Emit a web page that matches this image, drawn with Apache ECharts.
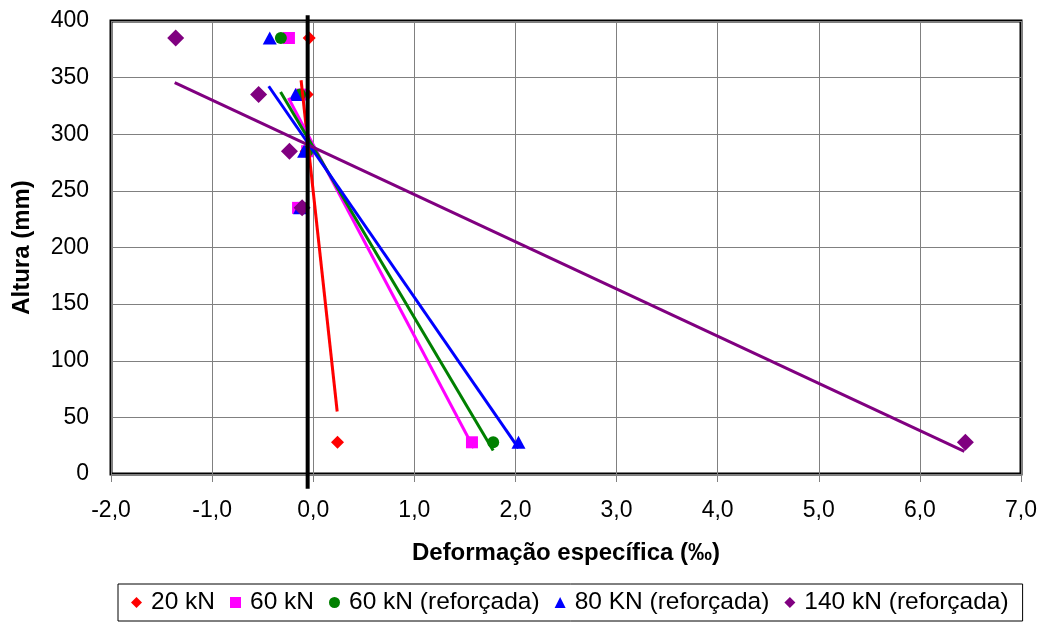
<!DOCTYPE html>
<html>
<head>
<meta charset="utf-8">
<title>Deformação específica x Altura</title>
<script src="https://cdn.jsdelivr.net/npm/echarts@6/dist/echarts.min.js"></script>
<style>
  html, body { margin: 0; padding: 0; background: #fff; }
  #chart { width: 1042px; height: 623px; }
</style>
</head>
<body>
<div id="chart"></div>
<script>
// Strain readings (‰) at each gauge height (mm) for every load step
const heights = [385, 335, 285, 235, 28];

const strain20kN = [-0.04, -0.06, -0.07, -0.12, 0.24];
const strain60kN = [-0.24, -0.12, -0.06, -0.15, 1.57];
const strain60kNRef = [-0.32, -0.13, -0.06, -0.10, 1.78];
const strain80kNRef = [-0.43, -0.175, -0.09, -0.13, 2.03];
const strain140kNRef = [-1.36, -0.54, -0.235, -0.11, 6.45];

// Linear trend lines: [strain, height] at both ends
const trend20kN = [[-0.12, 347.7], [0.237, 55.2]];
const trend60kN = [[-0.245, 332.0], [1.587, 22.9]];
const trend60kNRef = [[-0.323, 337.4], [1.78, 20.8]];
const trend80kNRef = [[-0.44, 342.4], [2.03, 22.9]];
const trend140kNRef = [[-1.37, 345.6], [6.44, 19.9]];

// Reference vertical line near zero strain
const zeroLine = [[-0.055, 405], [-0.055, -13]];

const seriesNames = ['20 kN', '60 kN', '60 kN (reforçada)', '80 KN (reforçada)', '140 kN (reforçada)'];
const seriesColors = ['#FF0000', '#FF00FF', '#008000', '#0000FF', '#800080'];
const seriesSymbols = ['diamond', 'rect', 'circle', 'triangle', 'diamond'];
const symbolSizes = [[13, 13], [12, 12], [12, 12], [14, 13], [17, 17]];

const strains = [strain20kN, strain60kN, strain60kNRef, strain80kNRef, strain140kNRef];
const trends = [trend20kN, trend60kN, trend60kNRef, trend80kNRef, trend140kNRef];

const FONT = '"Liberation Sans", Arial, sans-serif';
const fmt = v => v.toFixed(1).replace('.', ',');

const series = [];
strains.forEach((xs, i) => {
  series.push({
    name: seriesNames[i],
    type: 'scatter',
    symbol: seriesSymbols[i],
    symbolSize: symbolSizes[i],
    itemStyle: { color: seriesColors[i], opacity: 1 },
    data: xs.map((x, k) => [x, heights[k]]),
    z: 3
  });
});
trends.forEach((pts, i) => {
  series.push({
    name: 'trend-' + i,
    type: 'line',
    showSymbol: false,
    symbol: 'none',
    lineStyle: { color: seriesColors[i], width: 3 },
    data: pts,
    z: 4,
    silent: true
  });
});
series.push({
  name: 'zero',
  type: 'line',
  symbol: 'none',
  clip: false,
  lineStyle: { color: '#000', width: 4 },
  data: zeroLine,
  z: 6,
  silent: true
});

const chart = echarts.init(document.getElementById('chart'), null, { renderer: 'canvas' });
chart.setOption({
  animation: false,
  backgroundColor: '#fff',
  textStyle: { fontFamily: FONT },
  grid: {
    left: 111, right: 21, top: 21, bottom: 149,
    show: true, borderColor: '#000', borderWidth: 3, backgroundColor: 'transparent'
  },
  xAxis: {
    type: 'value', min: -2, max: 7, interval: 1,
    name: 'Deformação específica (‰)',
    nameLocation: 'middle', nameGap: 67,
    nameTextStyle: { fontSize: 24, fontWeight: 'bold', color: '#000', fontFamily: FONT },
    axisLine: { show: false },
    axisTick: { show: true, length: 8, lineStyle: { color: '#808080', width: 1 } },
    axisLabel: { formatter: fmt, fontSize: 23, color: '#000', margin: 25, fontFamily: FONT },
    splitLine: { show: true, lineStyle: { color: '#808080', width: 1 } }
  },
  yAxis: {
    type: 'value', min: 0, max: 400, interval: 50,
    name: 'Altura (mm)',
    nameLocation: 'middle', nameGap: 77,
    nameTextStyle: { fontSize: 24, fontWeight: 'bold', color: '#000', fontFamily: FONT },
    axisLine: { show: false },
    axisTick: { show: true, length: 8, lineStyle: { color: '#808080', width: 1 } },
    axisLabel: { fontSize: 23, color: '#000', margin: 22, fontFamily: FONT },
    splitLine: { show: true, lineStyle: { color: '#808080', width: 1 } }
  },
  legend: {
    data: seriesNames,
    left: 118, top: 584,
    orient: 'horizontal',
    borderColor: '#000', borderWidth: 1,
    padding: [6, 14, 6, 13],
    itemGap: 15, itemWidth: 11, itemHeight: 11,
    textStyle: { fontSize: 24.5, color: '#000', fontFamily: FONT, padding: [0, 0, 0, 4] }
  },
  series: series
});
</script>
</body>
</html>
